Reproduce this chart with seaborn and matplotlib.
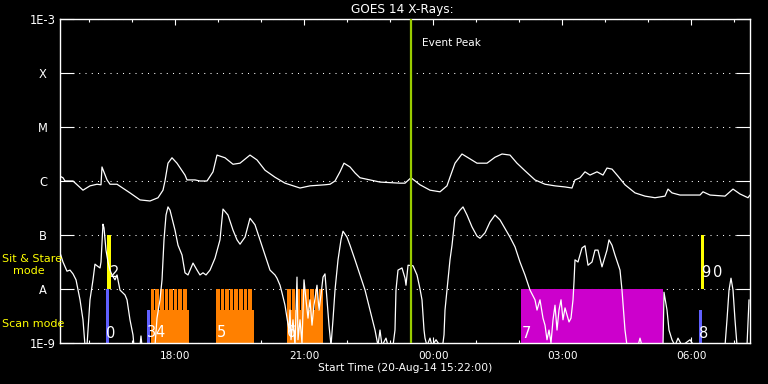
import numpy as np
import matplotlib
matplotlib.use("Agg")
import matplotlib.pyplot as plt
import seaborn as sns
from matplotlib.ticker import NullLocator

sns.set_style("dark")
plt.rcParams["font.family"] = ["DejaVu Sans"]

# ---------------- data (time = hours since 20-Aug-14 15:22) ----------------
start_label = "Start Time (20-Aug-14 15:22:00)"
start_hour = 15 + 22 / 60

# GOES long channel (1-8 A), log10 flux
upper_t = [-0.05, 0.023, 0.07, 0.256, 0.488, 0.651, 0.814, 0.907, 0.93, 1.047,
           1.116, 1.279, 1.581, 1.814, 2.047, 2.233, 2.349, 2.395, 2.465, 2.558,
           2.674, 2.86, 2.907, 3.093, 3.209, 3.372, 3.512, 3.605, 3.791, 3.977,
           4.14, 4.372, 4.535, 4.721, 4.953, 5.186, 5.535, 5.767, 6.116, 6.233,
           6.349, 6.465, 6.558, 6.698, 6.814, 6.93, 7.395, 7.86, 7.977, 8.116,
           8.326, 8.558, 8.791, 8.953, 9.023, 9.14, 9.302, 9.488, 9.651, 9.884,
           10.07, 10.233, 10.419, 10.581, 10.767, 11.0, 11.233, 11.465, 11.698, 11.86,
           11.93, 12.047, 12.163, 12.279, 12.442, 12.581, 12.674, 12.791, 12.93, 13.093,
           13.326, 13.558, 13.791, 14.023, 14.093, 14.186, 14.372, 14.837, 14.907, 15.07,
           15.419, 15.605, 15.767, 15.953, 16.0]
upper_log = [-5.91, -5.94, -6.0, -6.0, -6.17, -6.09, -6.06, -6.07, -5.74, -5.98,
             -6.06, -6.06, -6.22, -6.35, -6.37, -6.31, -6.17, -6.0, -5.67, -5.57,
             -5.67, -5.89, -5.98, -5.98, -6.0, -6.0, -5.83, -5.52, -5.57, -5.69,
             -5.67, -5.52, -5.61, -5.80, -5.93, -6.04, -6.13, -6.09, -6.07, -6.06,
             -6.0, -5.83, -5.67, -5.74, -5.85, -5.94, -6.02, -6.04, -6.04, -5.94,
             -6.07, -6.17, -6.20, -6.09, -5.93, -5.67, -5.5, -5.59, -5.67, -5.67,
             -5.56, -5.5, -5.52, -5.67, -5.81, -5.98, -6.06, -6.09, -6.11, -6.13,
             -5.98, -5.94, -5.83, -5.89, -5.83, -5.89, -5.76, -5.78, -5.91, -6.07,
             -6.22, -6.28, -6.31, -6.28, -6.15, -6.22, -6.26, -6.26, -6.20, -6.26,
             -6.28, -6.15, -6.24, -6.31, -6.26]

# GOES short channel (0.5-4 A), log10 flux
lower_t = [-0.05, 0.023, 0.116, 0.186, 0.256, 0.326, 0.419, 0.488, 0.535, 0.581,
           0.605, 0.651, 0.721, 0.767, 0.814, 0.884, 0.907, 0.953, 0.977, 1.023,
           1.07, 1.116, 1.163, 1.233, 1.279, 1.349, 1.465, 1.512, 1.581, 1.651,
           1.674, 1.814, 1.837, 1.86, 2.163, 2.209, 2.279, 2.326, 2.372, 2.419,
           2.465, 2.512, 2.628, 2.698, 2.791, 2.86, 2.93, 3.047, 3.14, 3.209,
           3.279, 3.349, 3.442, 3.558, 3.674, 3.744, 3.86, 3.977, 4.07, 4.14,
           4.256, 4.372, 4.488, 4.605, 4.721, 4.837, 4.953, 5.0, 5.07, 5.116,
           5.186, 5.233, 5.279, 5.302, 5.326, 5.372, 5.419, 5.465, 5.488, 5.535,
           5.581, 5.628, 5.674, 5.721, 5.767, 5.814, 5.86, 5.93, 5.977, 6.023,
           6.07, 6.116, 6.163, 6.209, 6.256, 6.302, 6.349, 6.419, 6.488, 6.535,
           6.628, 6.698, 6.814, 6.93, 7.047, 7.163, 7.279, 7.349, 7.395, 7.442,
           7.535, 7.581, 7.698, 7.744, 7.767, 7.814, 7.907, 7.977, 8.0, 8.047,
           8.163, 8.256, 8.326, 8.372, 8.419, 8.442, 8.488, 8.558, 8.605, 8.698,
           8.791, 8.86, 8.884, 8.907, 8.953, 9.023, 9.07, 9.14, 9.256, 9.326,
           9.419, 9.535, 9.651, 9.721, 9.837, 9.953, 10.07, 10.186, 10.419, 10.535,
           10.651, 10.767, 10.884, 11.0, 11.047, 11.116, 11.186, 11.233, 11.279, 11.326,
           11.372, 11.419, 11.465, 11.512, 11.558, 11.605, 11.651, 11.698, 11.744, 11.791,
           11.837, 11.884, 11.907, 11.93, 12.0, 12.047, 12.093, 12.163, 12.233, 12.326,
           12.395, 12.465, 12.558, 12.674, 12.721, 12.791, 12.86, 12.977, 13.023, 13.093,
           13.14, 13.395, 13.442, 13.488, 13.977, 14.0, 14.07, 14.116, 14.186, 14.256,
           14.326, 14.419, 14.605, 14.698, 15.419, 15.465, 15.512, 15.558, 15.605, 15.651,
           15.698, 15.93, 15.977]
lower_log = [-7.32, -7.50, -7.67, -7.65, -7.72, -7.83, -8.20, -8.57, -9.05, -9.05,
             -8.76, -8.20, -7.83, -7.54, -7.57, -7.61, -7.50, -6.80, -6.87, -7.28,
             -7.50, -7.65, -7.74, -7.83, -7.74, -8.02, -8.11, -8.20, -8.57, -8.85,
             -9.05, -9.05, -8.87, -9.05, -9.05, -8.54, -8.20, -7.83, -7.09, -6.63,
             -6.48, -6.54, -6.91, -7.19, -7.37, -7.70, -7.74, -7.52, -7.65, -7.74,
             -7.70, -7.74, -7.65, -7.43, -7.09, -6.52, -6.63, -6.91, -7.09, -7.17,
             -7.04, -6.69, -6.81, -7.09, -7.37, -7.65, -7.74, -7.80, -7.93, -8.07,
             -8.30, -8.54, -8.76, -8.39, -8.94, -8.57, -9.05, -7.78, -8.94, -8.57,
             -9.0, -7.83, -8.20, -8.54, -8.20, -8.67, -8.30, -7.93, -8.39, -8.11,
             -7.78, -7.72, -8.20, -8.67, -9.05, -8.57, -8.02, -7.46, -7.09, -6.93,
             -7.04, -7.19, -7.46, -7.74, -8.02, -8.39, -8.76, -9.05, -8.76, -9.05,
             -8.91, -9.05, -9.05, -8.76, -8.02, -7.65, -7.61, -7.80, -7.93, -7.56,
             -7.57, -7.74, -8.0, -8.20, -8.76, -8.91, -9.05, -8.91, -9.05, -8.94,
             -9.05, -9.0, -8.85, -8.39, -8.02, -7.46, -7.19, -6.67, -6.54, -6.48,
             -6.63, -6.85, -7.02, -7.06, -6.96, -6.76, -6.63, -6.72, -7.04, -7.22,
             -7.50, -7.74, -8.02, -8.20, -8.39, -8.20, -8.54, -8.67, -8.94, -8.76,
             -9.0, -8.57, -8.30, -8.76, -8.39, -8.20, -8.57, -8.35, -8.48, -8.61,
             -8.54, -8.20, -7.87, -7.46, -7.50, -7.37, -7.24, -7.20, -7.56, -7.50,
             -7.28, -7.28, -7.59, -7.28, -7.09, -7.19, -7.37, -7.65, -8.02, -8.76,
             -9.05, -9.05, -8.91, -9.05, -9.05, -8.06, -8.39, -8.76, -8.94, -9.05,
             -8.91, -9.05, -8.94, -9.05, -9.05, -8.57, -8.02, -7.80, -8.02, -8.57,
             -9.05, -9.05, -8.20]

event_peak_t = 8.109

# IRIS observations
sit_start = [1.058, 14.85]
sit_end = [1.128, 14.92]
blue_start = [1.023, 1.977, 14.81]
blue_end = [1.093, 2.047, 14.88]
blue_top_log = [-8.0, -8.39, -8.39]
raster_block_start = [2.063, 3.581, 5.233]
raster_block_end = [2.947, 4.458, 6.081]
raster_block_top_log = -8.39
raster_step_start = [2.063, 2.170, 2.277, 2.384, 2.491, 2.598, 2.705, 2.812,
                     3.581, 3.688, 3.795, 3.902, 4.009, 4.116, 4.223, 4.330,
                     5.233, 5.340, 5.447, 5.554, 5.661, 5.768, 5.875, 5.982]
raster_step_width = 0.086
long_scan_start = [10.674]
long_scan_end = [13.977]

obs_labels = ["0", "2", "3", "4", "5", "6", "7", "8", "9", "0"]
obs_label_t = [1.128, 1.233, 2.07, 2.285, 3.709, 5.349, 10.79, 14.93, 14.977, 15.24]
obs_label_log = [-8.815, -7.694, -8.806, -8.806, -8.806, -8.806, -8.815, -8.815, -7.694, -7.694]

ytick_labels = ["1E-9", "A", "B", "C", "M", "X", "1E-3"]
ytick_log = [-9, -8, -7, -6, -5, -4, -3]
xtick_hours = [18, 21, 0, 3, 6]
xminor_hours = [16, 17, 19, 20, 22, 23, 1, 2, 4, 5, 7]

# ---------------- figure ----------------
fig = plt.figure(figsize=(7.68, 3.84), dpi=100, facecolor="black")
ax = fig.add_axes([60 / 768, 41 / 384, 690 / 768, 324 / 384])
ax.set_facecolor("black")
ax.set_yscale("log")

YB = 1e-9
# coloured observation bars
ax.bar(sit_start, 1e-7 - 1e-8, bottom=1e-8,
       width=np.array(sit_end) - np.array(sit_start), align="edge",
       color="#ffff00", linewidth=0, zorder=2)
ax.bar(blue_start, 10.0 ** np.array(blue_top_log) - YB, bottom=YB,
       width=np.array(blue_end) - np.array(blue_start), align="edge",
       color="#6060ff", linewidth=0, zorder=2)
ax.bar(raster_block_start, 10.0 ** raster_block_top_log - YB, bottom=YB,
       width=np.array(raster_block_end) - np.array(raster_block_start), align="edge",
       color="#ff8000", linewidth=0, zorder=2)
ax.bar(raster_step_start, 1e-8 - YB, bottom=YB, width=raster_step_width, align="edge",
       color="#ff8000", linewidth=0, zorder=2)
ax.bar(long_scan_start, 1e-8 - YB, bottom=YB,
       width=np.array(long_scan_end) - np.array(long_scan_start), align="edge",
       color="#cc00cc", linewidth=0, zorder=2)

# light curves
sns.lineplot(x=upper_t, y=10.0 ** np.array(upper_log), ax=ax, color="white",
             linewidth=0.9, sort=False, estimator=None, zorder=3)
sns.lineplot(x=lower_t, y=10.0 ** np.array(lower_log), ax=ax, color="white",
             linewidth=0.9, sort=False, estimator=None, zorder=3)

ax.axvline(event_peak_t, color="#99cc00", linewidth=1.6, zorder=4)
ax.text(event_peak_t + 0.256, 0.926, "Event Peak", transform=ax.get_xaxis_transform(),
        color="white", fontsize=7.6, ha="left", va="center", zorder=5)

for s, t, l in zip(obs_labels, obs_label_t, obs_label_log):
    ax.text(t, 10.0 ** l, s, color="white", fontsize=10.5, ha="center", va="center", zorder=5)

# axes styling
ax.set_xlim(-0.0465, 16.0)
ax.set_ylim(1e-9, 1e-3)
ax.set_yticks([10.0 ** v for v in ytick_log])
ax.set_yticklabels(ytick_labels, ha="center")
ax.yaxis.set_minor_locator(NullLocator())
ax.tick_params(axis="y", which="major", direction="in", length=10, width=0.8,
               left=True, right=True, color="white", labelcolor="white",
               labelsize=8.3, pad=12.3)

xt = [(h - start_hour) % 24 for h in xtick_hours]
xm = [(h - start_hour) % 24 for h in xminor_hours]
ax.set_xticks(xt)
ax.set_xticklabels([f"{h:02d}:00" for h in xtick_hours])
ax.set_xticks(xm, minor=True)
ax.tick_params(axis="x", which="major", direction="in", length=4.3, width=0.8,
               top=True, bottom=True, color="white", labelcolor="white",
               labelsize=7.6, pad=5.5)
ax.tick_params(axis="x", which="minor", direction="in", length=2.2, width=0.8,
               top=True, bottom=True, color="white")

ax.grid(False)
ax.yaxis.grid(True, color="white", linestyle=(0, (1, 5)), linewidth=0.75)
ax.set_axisbelow(True)
for sp in ax.spines.values():
    sp.set_color("white")
    sp.set_linewidth(1.0)
    sp.set_visible(True)
ax.set_xlabel("")
ax.set_ylabel("")

fig.text(402.5 / 768, 1 - 10 / 384, "GOES 14 X-Rays:", color="white", fontsize=8.7,
         ha="center", va="center")
fig.text(405 / 768, 1 - 368 / 384, start_label, color="white", fontsize=7.7,
         ha="center", va="center")
fig.text(2 / 768, 1 - 259 / 384, "Sit & Stare", color="#ffff00", fontsize=8,
         ha="left", va="center")
fig.text(13 / 768, 1 - 271 / 384, "mode", color="#ffff00", fontsize=8,
         ha="left", va="center")
fig.text(2 / 768, 1 - 324 / 384, "Scan mode", color="#ffff00", fontsize=8,
         ha="left", va="center")

fig.savefig("out.png", dpi=100, facecolor="black")
